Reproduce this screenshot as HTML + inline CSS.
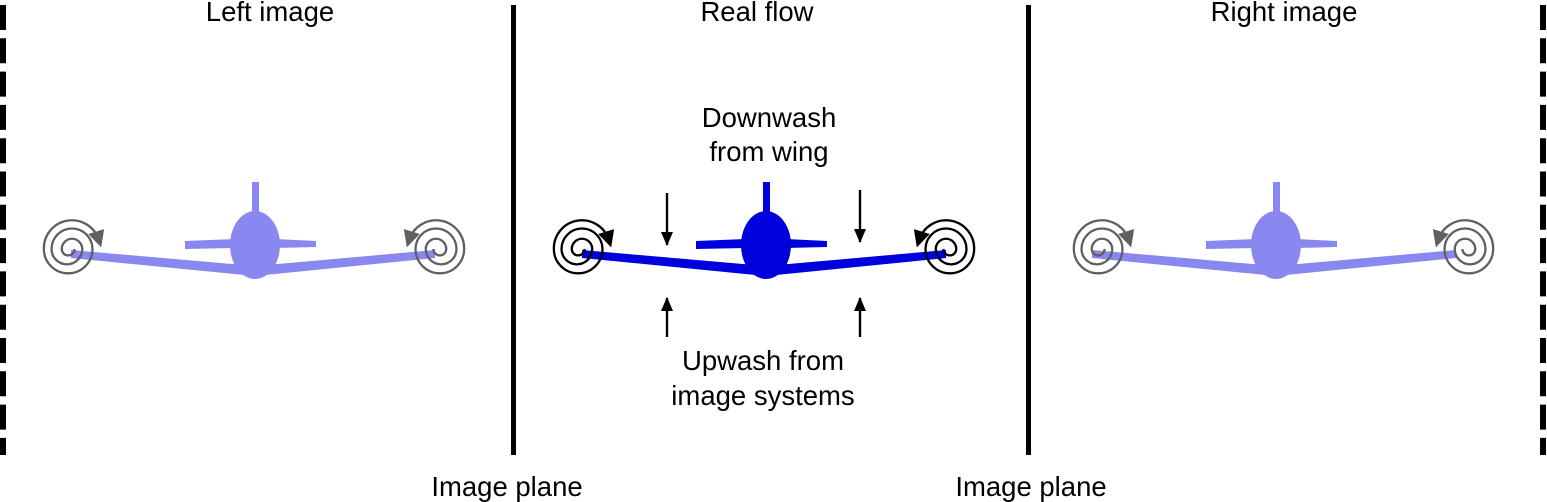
<!DOCTYPE html>
<html><head><meta charset="utf-8"><style>
html,body{margin:0;padding:0;background:#fff;}
svg{display:block;}
text{font-family:"Liberation Sans",Arial,sans-serif;font-size:27.5px;fill:#000;}
</style></head><body>
<svg width="1547" height="502" viewBox="0 0 1547 502" xmlns="http://www.w3.org/2000/svg">
<defs>
<marker id="ab" markerWidth="13" markerHeight="13" refX="7" refY="6.5" orient="auto" markerUnits="userSpaceOnUse" viewBox="0 0 13 13">
<path d="M0,0 L13,6.5 L0,13 z" fill="#000"/></marker>
<marker id="ag" markerWidth="13" markerHeight="13" refX="7" refY="6.5" orient="auto" markerUnits="userSpaceOnUse" viewBox="0 0 13 13">
<path d="M0,0 L13,6.5 L0,13 z" fill="#606060"/></marker>
<marker id="ak" markerWidth="14" markerHeight="14" refX="13" refY="6" orient="auto" markerUnits="userSpaceOnUse" viewBox="0 0 14 12">
<path d="M0,0 L14,6 L0,12 z" fill="#000"/></marker>
<g id="plane">
<rect x="-3" y="-63" width="7" height="36" />
<ellipse cx="0" cy="0" rx="25" ry="34"/>
<polygon points="-70,-4 -20,-6 -20,3 -70,4"/>
<polygon points="20,-6 61,-4 61,2 20,3"/>
<polygon points="-184,5 0,21 0,31 -184,13"/>
<polygon points="0,21 180,5 180,13 0,31"/>
</g>
<path id="spb" d="M2,0 A5,5 0 0 1 -8,0 A8,8 0 0 1 8,0 A12,12 0 0 1 -16,0 A16,16 0 0 1 16,0 A19,19 0 0 1 -22,0 A22,22 0 0 1 21,-7" fill="none"/>
</defs>
<line x1="3" y1="5" x2="3" y2="455" stroke="#000" stroke-width="6" stroke-dasharray="25 8.3"/>
<line x1="1543" y1="5" x2="1543" y2="455" stroke="#000" stroke-width="6" stroke-dasharray="25 8.3"/>
<rect x="511" y="5" width="5" height="450" fill="#000"/>
<rect x="1026" y="5" width="5" height="450" fill="#000"/>
<text x="270" y="21" text-anchor="middle">Left image</text>
<text x="757" y="21" text-anchor="middle">Real flow</text>
<text x="1284" y="21" text-anchor="middle">Right image</text>
<text x="507" y="496" text-anchor="middle">Image plane</text>
<text x="1031" y="496" text-anchor="middle">Image plane</text>
<text x="769" y="127" text-anchor="middle">Downwash</text>
<text x="769" y="161" text-anchor="middle">from wing</text>
<text x="763" y="370" text-anchor="middle">Upwash from</text>
<text x="763" y="405" text-anchor="middle">image systems</text>
<use href="#plane" transform="translate(766,245)" fill="#0000dd"/>
<use href="#plane" transform="translate(255,245)" fill="#8888f0"/>
<use href="#plane" transform="translate(1276,245)" fill="#8888f0"/>
<g stroke="#000" stroke-width="1.8">
<use href="#spb" transform="translate(582,249) scale(1.28)" marker-end="url(#ab)"/>
<use href="#spb" transform="translate(946,249) scale(-1.28,1.28)" marker-end="url(#ab)"/>
</g>
<g stroke="#606060" stroke-width="1.8">
<use href="#spb" transform="translate(72,249) scale(1.28)" marker-end="url(#ag)"/>
<use href="#spb" transform="translate(436,249) scale(-1.28,1.28)" marker-end="url(#ag)"/>
<use href="#spb" transform="translate(1102,249) scale(1.28)" marker-end="url(#ag)"/>
<use href="#spb" transform="translate(1465,249) scale(-1.28,1.28)" marker-end="url(#ag)"/>
</g>
<g stroke="#000" stroke-width="2.4">
<line x1="667" y1="193" x2="667" y2="245" marker-end="url(#ak)"/>
<line x1="860" y1="190" x2="860" y2="242" marker-end="url(#ak)"/>
<line x1="667" y1="337" x2="667" y2="298" marker-end="url(#ak)"/>
<line x1="860" y1="337" x2="860" y2="298" marker-end="url(#ak)"/>
</g>
</svg>
</body></html>
